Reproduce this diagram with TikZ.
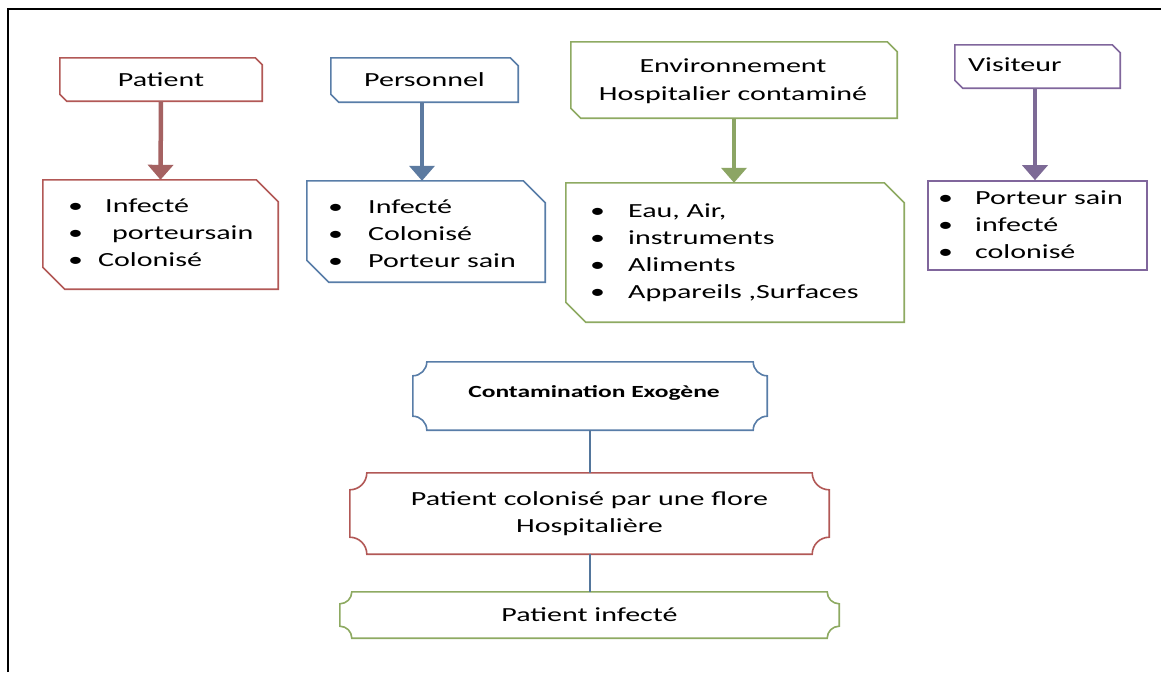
\documentclass[tikz,border=0pt]{standalone}
\usepackage{fontspec}
\usetikzlibrary{arrows.meta}
\newfontfamily\wide[FakeStretch=1.5]{Carlito}
\definecolor{cred}{RGB}{178,88,86}
\definecolor{cblue}{RGB}{88,125,168}
\definecolor{cgreen}{RGB}{142,170,98}
\definecolor{cpurple}{RGB}{128,102,156}
\definecolor{ared}{RGB}{165,98,98}
\definecolor{ablue}{RGB}{92,122,160}
\definecolor{agreen}{RGB}{140,165,100}
\definecolor{apurple}{RGB}{125,106,150}
\definecolor{clink}{RGB}{84,118,156}
\newcommand{\snipoutline}[3]{%
  \draw[boxline,#2] (#1.north west) -- ([xshift=-#3]#1.north east) -- ([yshift=-#3]#1.north east)
    -- (#1.south east) -- ([xshift=#3]#1.south west) -- ([yshift=#3]#1.south west) -- cycle;}
\newcommand{\plaqueoutline}[3]{%
  \draw[boxline,#2] ([xshift=#3]#1.north west) -- ([xshift=-#3]#1.north east)
    arc[start angle=180,end angle=270,radius=#3] -- ([yshift=#3]#1.south east)
    arc[start angle=90,end angle=180,radius=#3] -- ([xshift=#3]#1.south west)
    arc[start angle=0,end angle=90,radius=#3] -- ([yshift=-#3]#1.north west)
    arc[start angle=-90,end angle=0,radius=#3] -- cycle;}
\tikzset{
  txt/.style={font=\wide\fontsize{20}{27}\selectfont, inner sep=0pt, text=black},
  shapebox/.style={draw=none, inner sep=0pt, minimum width=#1},
  boxline/.style={line width=1.6pt},
  bigarrow/.style={line width=4.5pt, -{Triangle[width=25pt,length=15pt]}},
  link/.style={line width=2pt, draw=clink},
}
\newcommand{\bul}[1]{\makebox[#1][l]{•}}
\begin{document}
\begin{tikzpicture}[x=1pt,y=-1pt]
\useasboundingbox (0,0) rectangle (1161,672);
\fill[white] (0,0) rectangle (1161,672);
\draw[line width=2.5pt] (8,672) -- (8,9) -- (1161,9);

% Patient
\node[txt, shapebox=202pt, minimum height=43pt] (pH) at (161,79.5) {Patient};
\snipoutline{pH}{cred}{7pt}
\node[shapebox=235pt, minimum height=109pt] (pL) at (160.5,234.5) {};
\snipoutline{pL}{cred}{22pt}
\node[txt, align=left, anchor=west] (pT) at (68,233) {\bul{37pt}Infecté\\\bul{44pt}porteursain\\\bul{30pt}Colonisé};
\draw[bigarrow, ared] (pH.south) -- (pL.north);

% Personnel
\node[txt, shapebox=187pt, minimum height=44pt] (sH) at (424.5,80) {Personnel};
\snipoutline{sH}{cblue}{8pt}
\node[shapebox=238pt, minimum height=101pt] (sL) at (426,231.5) {};
\snipoutline{sL}{cblue}{22pt}
\node[txt, align=left, anchor=west] (sT) at (328,234) {\bul{40pt}Infecté\\\bul{40pt}Colonisé\\\bul{40pt}Porteur sain};
\coordinate (sA) at (422,102);
\draw[bigarrow, ablue] (sA) -- (sA |- sL.north);

% Environnement
\node[shapebox=326pt, minimum height=76pt] (eH) at (734,80) {};
\node[txt, align=center] (eHt) at (733,81) {Environnement\\[1pt]Hospitalier contaminé};
\snipoutline{eH}{cgreen}{10pt}
\node[shapebox=338pt, minimum height=139pt] (eL) at (735,252.5) {};
\snipoutline{eL}{cgreen}{20pt}
\node[txt, align=left, anchor=west] (eT) at (590,252.5) {\bul{38pt}Eau, Air,\\\bul{38pt}instruments\\\bul{38pt}Aliments\\\bul{38pt}Appareils ,Surfaces};
\draw[bigarrow, agreen] (eH.south) -- (eH.south |- eL.north);

% Visiteur
\node[shapebox=165pt, minimum height=43pt] (vH) at (1037.5,66.5) {};
\snipoutline{vH}{cpurple}{8pt}
\node[txt, anchor=west] (vT0) at (968,65) {Visiteur};
\node[shapebox=219pt, minimum height=89pt, draw=cpurple, boxline] (vL) at (1037.5,225.5) {};
\node[txt, align=left, anchor=west] (vT) at (938,225) {\bul{37pt}Porteur sain\\\bul{37pt}infecté\\\bul{37pt}colonisé};
\coordinate (vA) at (1035,88);
\draw[bigarrow, apurple] (vA) -- (vA |- vL.north);

% Bottom chain
\node[shapebox=354pt, minimum height=68pt] (cE) at (590,396) {};
\node[font=\wide\bfseries\fontsize{17}{20}\selectfont, inner sep=0pt] (cEt) at (594,393) {Contamination Exogène};
\plaqueoutline{cE}{cblue}{14pt}
\node[txt, shapebox=479pt, minimum height=81pt, align=center] (cP) at (589.5,513.5) {Patient colonisé par une flore\\Hospitalière};
\plaqueoutline{cP}{cred}{17pt}
\node[txt, shapebox=499pt, minimum height=46pt] (cI) at (589.5,615) {Patient infecté};
\plaqueoutline{cI}{cgreen}{12pt}
\draw[link] (cE.south) -- (cE.south |- cP.north);
\draw[link] (cP.south) -- (cP.south |- cI.north);
\end{tikzpicture}
\end{document}
